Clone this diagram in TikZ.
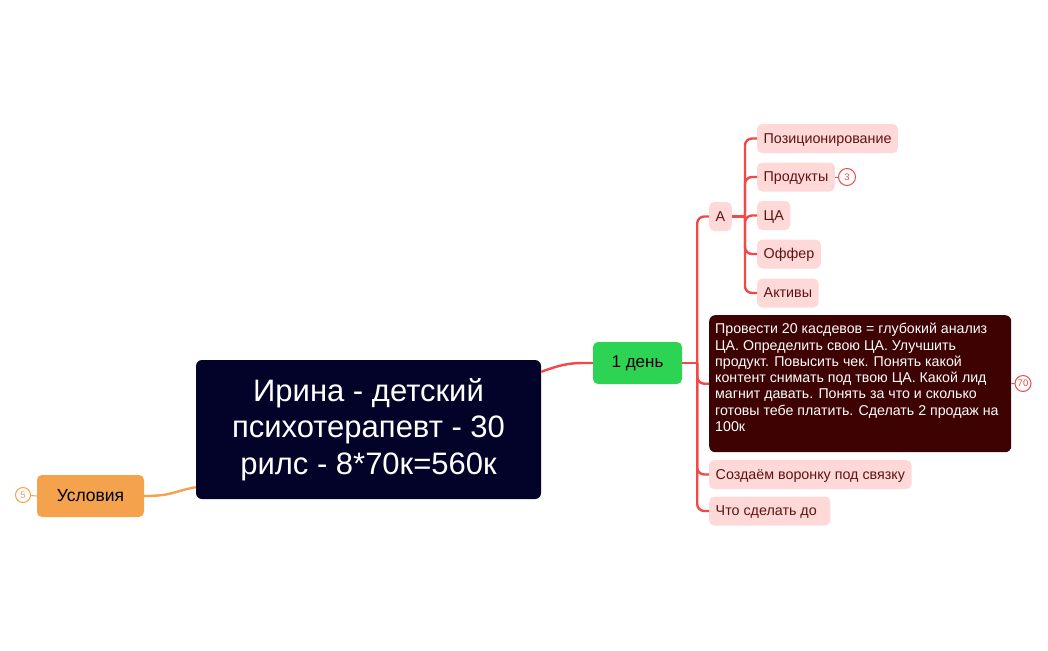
\documentclass[tikz,border=0pt]{standalone}
\usepackage{fontspec}
\setmainfont{Liberation Sans}
\usepackage{xcolor}
\usetikzlibrary{positioning}
\definecolor{rootfill}{HTML}{03032A}
\definecolor{uslorange}{HTML}{F5A24C}
\definecolor{daygreen}{HTML}{2DD353}
\definecolor{linkred}{HTML}{F24848}
\definecolor{leafpink}{HTML}{FFD9D7}
\definecolor{leaftext}{HTML}{5E1214}
\definecolor{callfill}{HTML}{3E0202}
\newcommand{\leafnode}[3]{\node[leaf] (#1) at (#2) {#3};}

\begin{document}
\begin{tikzpicture}[x=1pt,y=-1pt,
  link/.style={line width=2.4pt,draw=linkred,rounded corners=7pt},
  leaf/.style={fill=leafpink,text=leaftext,rounded corners=5pt,inner xsep=6.5pt,inner ysep=0pt,
    minimum height=29pt,text height=10.5pt,text depth=1pt,font=\fontsize{14.3}{16}\selectfont,anchor=west},
  badge/.style={circle,draw=#1,text=#1,fill=white,line width=1pt,inner sep=0pt,
    minimum size=16pt,font=\fontsize{9.5}{10}\selectfont}]
\useasboundingbox (0,0) rectangle (1048,650);
% ---- KORZEN ----
\node[fill=rootfill,text=white,rounded corners=6pt,minimum width=345pt,minimum height=139pt,
  align=center,font=\fontsize{31}{36.5}\selectfont] (root) at (368.5,429.5)
  {Ирина - детский\\психотерапевт - 30\\ рилс - 8*70к=560к};
\node[fill=uslorange,rounded corners=5pt,minimum width=107pt,minimum height=42pt,
  font=\fontsize{17.5}{20}\selectfont] (usl) at (90.5,496) {Условия};
\node[fill=daygreen,rounded corners=5pt,minimum width=89pt,minimum height=42pt,
  font=\fontsize{17}{20}\selectfont] (day) at (637.5,363) {1 день};
\draw[line width=2.4pt,draw=uslorange] (usl.east) .. controls +(28,0) and +(-22,4) .. ([yshift=12pt]root.south west);
\draw[line width=2.4pt,draw=linkred] ([yshift=-12pt]root.north east) .. controls +(25,-9) and +(-22,0) .. (day.west);
\node[badge=uslorange,minimum size=15pt] (b5) at (23,495) {5};
\draw[line width=1pt,draw=uslorange] (b5) -- (usl.west);
% ---- 1 DEN ----
\leafnode{a}{709,216.5}{A}
\leafnode{funnel}{709,474.5}{Создаём воронку под связку}
\leafnode{before}{709,511}{Что сделать до\hspace*{7pt}}
\node[fill=callfill,rounded corners=6pt,minimum width=302pt,minimum height=137pt,anchor=north west] (call) at (709,315) {};
\node[text=white,anchor=north west,align=left,inner sep=0pt,font=\fontsize{14.2}{16.3}\selectfont] (calltext) at (715,323)
  {Провести 20 касдевов = глубокий анализ\\ЦА. Определить свою ЦА. Улучшить\\продукт. Повысить чек. Понять какой\\контент снимать под твою ЦА. Какой лид\\магнит давать. Понять за что и сколько\\готовы тебе платить. Сделать 2 продаж на\\100к};
\draw[link] (day.east) -- ++(15,0) coordinate (dayhub);
\foreach \n in {a,call,funnel,before}
  \draw[link] (dayhub) |- (\n.west);
\node[badge=linkred] (b70) at (1023,383.5) {70};
\draw[line width=1pt,draw=linkred] (call.east) -- (b70.west);
% ---- A ----
\leafnode{pos}{757,138.5}{Позиционирование}
\leafnode{prod}{757,177}{Продукты}
\leafnode{ca}{757,215.5}{ЦА}
\leafnode{offer}{757,254}{Оффер}
\leafnode{assets}{757,293}{Активы}
\draw[link] (a.east) -- ++(13,0) coordinate (ahub);
\foreach \n in {pos,prod,ca,offer,assets}
  \draw[link] (ahub) |- (\n.west);
\node[badge=linkred,minimum size=17pt] (b3) at (847,177) {3};
\draw[line width=1pt,draw=linkred] (prod.east) -- (b3.west);
\end{tikzpicture}
\end{document}
